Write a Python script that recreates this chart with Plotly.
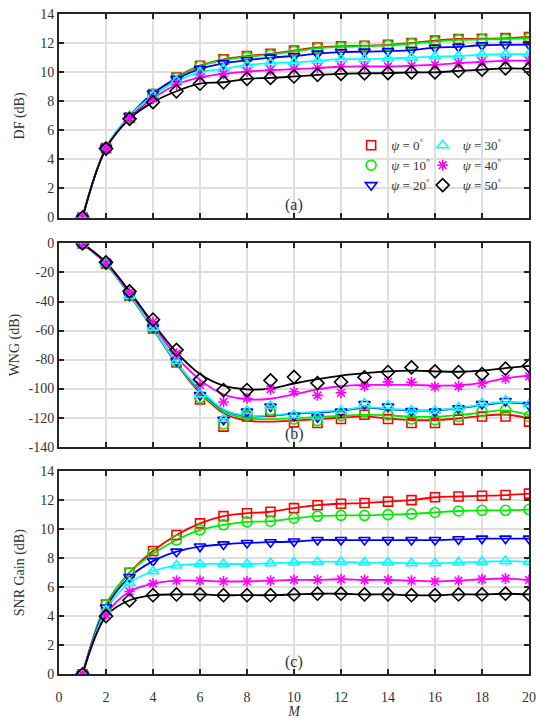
import plotly.graph_objects as go

M = list(range(1, 21))
psi_labels = ["0", "10", "20", "30", "40", "50"]
colors = ["#ff0000", "#00ee00", "#0000ff", "#00ffff", "#ff00ff", "#000000"]
symbols = ["square-open", "circle-open", "triangle-down-open", "triangle-up-open", "asterisk-open", "diamond-open"]
msizes = [9, 10, 10, 10, 9, 10]

# (a) DF (dB)
df_0 = [0, 4.78, 6.88, 8.5, 9.65, 10.46, 10.9, 11.12, 11.28, 11.5, 11.72, 11.8, 11.84, 11.9, 12.03, 12.19, 12.3, 12.32, 12.36, 12.44]
df_10 = [0, 4.78, 6.88, 8.5, 9.6, 10.42, 10.85, 11.07, 11.22, 11.45, 11.66, 11.75, 11.8, 11.86, 11.98, 12.12, 12.24, 12.27, 12.3, 12.36]
df_20 = [0, 4.8, 7.0, 8.55, 9.55, 10.24, 10.62, 10.84, 11.02, 11.13, 11.29, 11.4, 11.43, 11.47, 11.54, 11.7, 11.76, 11.87, 11.9, 11.92]
df_30 = [0, 4.8, 7.0, 8.4, 9.4, 10.0, 10.24, 10.5, 10.64, 10.7, 10.8, 10.91, 10.91, 10.96, 11.02, 11.09, 11.13, 11.22, 11.25, 11.25]
df_40 = [0, 4.78, 6.85, 8.2, 9.15, 9.65, 9.9, 10.05, 10.16, 10.22, 10.3, 10.39, 10.41, 10.41, 10.46, 10.53, 10.64, 10.73, 10.8, 10.8]
df_50 = [0, 4.75, 6.8, 7.95, 8.7, 9.22, 9.32, 9.56, 9.62, 9.72, 9.83, 9.9, 9.93, 9.95, 10.0, 10.0, 10.1, 10.19, 10.28, 10.25]

# (b) WNG (dB): markers
wng_0 = [0, -14, -36, -58.5, -82, -107.5, -126.2, -119.2, -116, -123.3, -123.7, -121, -118, -121, -123.7, -123.7, -121.5, -119.2, -119.2, -122.8]
wng_10 = [0, -14, -36, -58, -81.5, -106.3, -124.4, -118.3, -114.9, -121, -122.1, -118.7, -116, -118.1, -121, -121.5, -119.2, -115.8, -114.9, -119.2]
wng_20 = [0, -14, -36, -58, -81, -104.5, -121.5, -115.8, -112.3, -118.8, -119.7, -115.8, -110.6, -112.4, -115.4, -115.8, -113.6, -110.6, -108.6, -111.3]
wng_30 = [0, -14, -36, -58, -81, -104, -121, -115.3, -111.9, -118.3, -119.2, -115.3, -110.1, -111.9, -114.9, -115.3, -113.1, -110.1, -108.1, -110.8]
wng_40 = [0, -14, -33.5, -54, -76, -97.5, -109.2, -106.7, -100.6, -102.2, -104.7, -102.9, -98.4, -95.4, -95.6, -98.8, -98.4, -96.5, -93.1, -91.5]
wng_50 = [0, -13, -33, -52.5, -73.3, -93.8, -101, -101, -94.3, -92, -96.2, -95.5, -92.2, -88.6, -85.4, -88.1, -88.6, -90, -86.3, -84.3]
# (b) WNG (dB): smoothed curves
wng_fit_0 = [0, -14, -35.5, -59, -83, -103, -117, -122.1, -122.8, -122.1, -121, -120.1, -119.2, -120.6, -121.7, -121.7, -120.6, -118.8, -117.9, -120.6]
wng_fit_10 = [0, -14, -35.5, -59, -82.5, -102, -116, -120.5, -121, -120.5, -119.5, -118.8, -117.9, -118.5, -119.4, -119.4, -118.3, -116.5, -115.1, -118.3]
wng_fit_20 = [0, -14, -35, -58.5, -82, -101, -114.6, -119.1, -118.7, -117.3, -116.4, -115.3, -113.2, -114.2, -115.1, -115.1, -113.7, -111.4, -109.6, -110.5]
wng_fit_30 = [0, -14, -35, -58.5, -82, -100.6, -114.2, -118.7, -118.3, -116.9, -116, -114.9, -112.8, -113.8, -114.7, -114.7, -113.3, -111, -109.2, -110.1]
wng_fit_40 = [0, -13.5, -34, -56, -78, -94, -104, -107.4, -107, -104, -100.6, -98.4, -97.5, -97.5, -97.5, -97.9, -97.7, -96.1, -92.9, -91.1]
wng_fit_50 = [0, -13, -33, -55, -75, -90, -98, -100.5, -100, -96.5, -93.5, -91, -89.3, -88.1, -87.6, -88.1, -88.4, -87.6, -85.9, -84.3]

# (c) SNR Gain (dB)
snr_0 = [0, 4.8, 7.0, 8.5, 9.6, 10.4, 10.9, 11.1, 11.2, 11.45, 11.65, 11.75, 11.8, 11.9, 12.0, 12.2, 12.25, 12.3, 12.35, 12.45]
snr_10 = [0, 4.8, 7.0, 8.3, 9.25, 9.95, 10.3, 10.5, 10.55, 10.75, 10.9, 10.95, 10.95, 11.0, 11.05, 11.15, 11.25, 11.3, 11.3, 11.35]
snr_20 = [0, 4.6, 6.7, 7.8, 8.45, 8.8, 8.95, 9.05, 9.1, 9.15, 9.25, 9.25, 9.25, 9.25, 9.25, 9.25, 9.3, 9.35, 9.35, 9.35]
snr_30 = [0, 4.4, 6.3, 7.1, 7.5, 7.6, 7.6, 7.6, 7.65, 7.7, 7.75, 7.75, 7.7, 7.7, 7.65, 7.65, 7.7, 7.75, 7.8, 7.75]
snr_40 = [0, 4.1, 5.7, 6.25, 6.45, 6.45, 6.4, 6.4, 6.45, 6.5, 6.5, 6.55, 6.5, 6.5, 6.45, 6.4, 6.45, 6.55, 6.6, 6.5]
snr_50 = [0, 4.0, 5.1, 5.45, 5.5, 5.5, 5.45, 5.45, 5.45, 5.5, 5.55, 5.55, 5.5, 5.5, 5.45, 5.45, 5.5, 5.5, 5.55, 5.5]

x_ticks = [0, 2, 4, 6, 8, 10, 12, 14, 16, 18, 20]
x_ticktext = ["0", "2", "4", "6", "8", "10", "12", "14", "16", "18", "20"]
y_ticks_a = [0, 2, 4, 6, 8, 10, 12, 14]
y_ticktext_a = ["0", "2", "4", "6", "8", "10", "12", "14"]
y_ticks_b = [0, -20, -40, -60, -80, -100, -120, -140]
y_ticktext_b = ["0", "-20", "-40", "-60", "-80", "-100", "-120", "-140"]

df_all = [df_0, df_10, df_20, df_30, df_40, df_50]
wng_all = [wng_0, wng_10, wng_20, wng_30, wng_40, wng_50]
wng_fit_all = [wng_fit_0, wng_fit_10, wng_fit_20, wng_fit_30, wng_fit_40, wng_fit_50]
snr_all = [snr_0, snr_10, snr_20, snr_30, snr_40, snr_50]

FONT = "Liberation Serif"
TXT = "#333333"
fig = go.Figure()

panels = [
    ("x", "y", df_all, df_all),
    ("x2", "y2", wng_all, wng_fit_all),
    ("x3", "y3", snr_all, snr_all),
]
for p, (xa, ya, marks, lines) in enumerate(panels):
    for i in range(6):
        fig.add_trace(go.Scatter(
            x=M, y=lines[i], mode="lines", xaxis=xa, yaxis=ya,
            line=dict(color=colors[i], width=1.8, shape="spline", smoothing=1.0),
            showlegend=False, hoverinfo="skip"))
    for i in range(6):
        fig.add_trace(go.Scatter(
            x=M, y=marks[i], mode="markers", xaxis=xa, yaxis=ya,
            marker=dict(symbol=symbols[i], size=msizes[i], color=colors[i],
                        line=dict(color=colors[i], width=1.6)),
            name="<i>ψ</i> = " + psi_labels[i] + "<sup>°</sup>",
            showlegend=(p == 0),
            legend="legend" if i < 3 else "legend2"))

H = 719.0
def dom(top, bot):
    return [1 - bot / H, 1 - top / H]

axis_common = dict(
    showline=True, linecolor="#262626", linewidth=2, mirror="ticks",
    ticks="inside", ticklen=5, tickwidth=1.5, tickcolor="#262626",
    showgrid=True, gridcolor="#dedede", gridwidth=2, zeroline=False,
    tickfont=dict(family=FONT, size=14, color=TXT),
)
xcommon = dict(axis_common, range=[0, 20], tickvals=x_ticks, ticktext=x_ticktext, domain=[0, 1],
               ticklabeloverflow="allow")

legend_top = 1 - 126 / H
fig.update_layout(
    width=536, height=719,
    margin=dict(l=59, r=4, t=0, b=0),
    paper_bgcolor="white", plot_bgcolor="white",
    font=dict(family=FONT, color=TXT),
    xaxis=dict(xcommon, anchor="y", showticklabels=False),
    xaxis2=dict(xcommon, anchor="y2", showticklabels=False),
    xaxis3=dict(xcommon, anchor="y3", showticklabels=True, ticklabelstandoff=9,
                title=dict(text="<i>M</i>", font=dict(family=FONT, size=14, color=TXT), standoff=0)),
    yaxis=dict(axis_common, range=[0, 14], tickvals=y_ticks_a, ticktext=y_ticktext_a,
               domain=dom(7.5, 215), anchor="x",
               title=dict(text="DF (dB)", font=dict(family=FONT, size=14, color=TXT), standoff=12)),
    yaxis2=dict(axis_common, range=[-140, 0], tickvals=y_ticks_b, ticktext=y_ticktext_b,
                domain=dom(241.5, 449), anchor="x2",
                title=dict(text="WNG (dB)", font=dict(family=FONT, size=14, color=TXT), standoff=6)),
    yaxis3=dict(axis_common, range=[0, 14], tickvals=y_ticks_a, ticktext=y_ticktext_a,
                domain=dom(474, 681.5), anchor="x3",
                title=dict(text="SNR Gain (dB)", font=dict(family=FONT, size=14, color=TXT), standoff=12)),
    legend=dict(x=0.6216, y=legend_top, xanchor="left", yanchor="top",
                bgcolor="rgba(0,0,0,0)", font=dict(family=FONT, size=13, color=TXT),
                tracegroupgap=0, itemwidth=30),
    legend2=dict(x=0.7738, y=legend_top, xanchor="left", yanchor="top",
                 bgcolor="rgba(0,0,0,0)", font=dict(family=FONT, size=13, color=TXT),
                 tracegroupgap=0, itemwidth=30),
    annotations=[
        dict(x=10, y=0.85, xref="x", yref="y", text="(a)", showarrow=False,
             font=dict(family=FONT, size=16, color=TXT)),
        dict(x=10, y=-131, xref="x2", yref="y2", text="(b)", showarrow=False,
             font=dict(family=FONT, size=16, color=TXT)),
        dict(x=10, y=0.85, xref="x3", yref="y3", text="(c)", showarrow=False,
             font=dict(family=FONT, size=16, color=TXT)),
    ],
)

fig.write_html("out.html")
